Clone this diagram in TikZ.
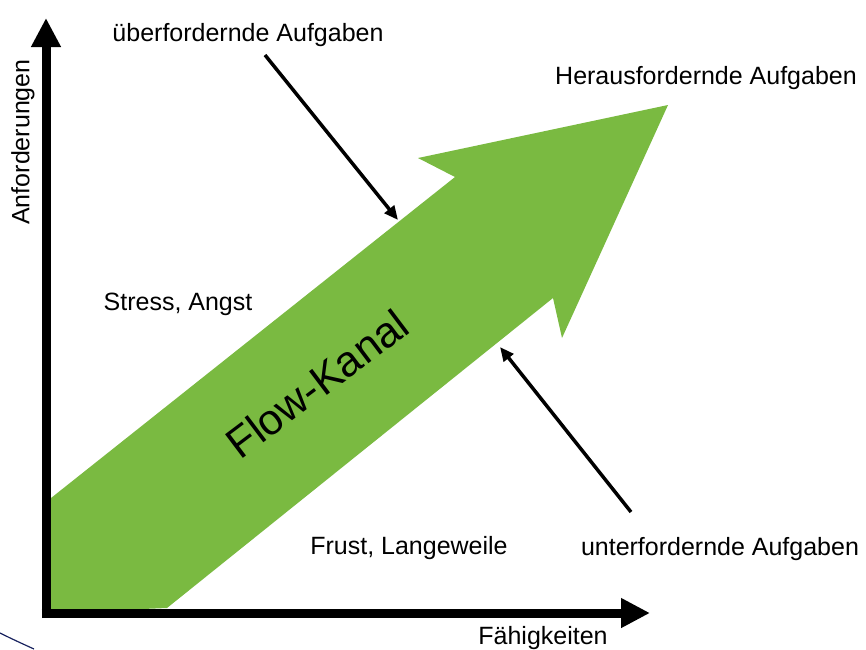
\documentclass[tikz,border=0pt]{standalone}
\usepackage{fontspec}
\setmainfont{Liberation Sans}
\usetikzlibrary{arrows.meta}
\definecolor{flowgreen}{RGB}{122,186,65}
\definecolor{curveblue}{RGB}{25,35,95}
\begin{document}
\begin{tikzpicture}[x=1pt,y=-1pt,
  axisline/.style={line width=9pt,-{Triangle[length=29pt,width=28pt]}},
  pointer/.style={line width=3.5pt,-{Triangle[length=14pt,width=12pt]}},
  lbl/.style={font=\fontsize{25}{30}\selectfont,inner sep=0pt,anchor=base}]
\useasboundingbox (0,0) rectangle (866,649);
% coordinates
\coordinate (O) at (46,613);
\coordinate (ytip) at (46,18);
\coordinate (xtip) at (650,613);
\coordinate (ystart) at (46,618);
\coordinate (xstart) at (41.5,613);
% green flow arrow
\fill[flowgreen] (46,502) -- (455,177) -- (418,158) -- (668,105) -- (562,338)
  -- (553,298) -- (167,608) -- (46,613) -- cycle;
% axes
\draw[axisline] (ystart) -- (ytip);
\draw[axisline] (xstart) -- (xtip);
% labels
\node[lbl] (ueber) at (248,41) {überfordernde Aufgaben};
\node[lbl] (heraus) at (706,84) {Herausfordernde Aufgaben};
\node[lbl] (stress) at (178,310) {Stress, Angst};
\node[lbl] (frust) at (409,554) {Frust, Langeweile};
\node[lbl] (unter) at (720,555) {unterfordernde Aufgaben};
\node[lbl] (faeh) at (543,644) {Fähigkeiten};
\node[font=\fontsize{25}{30}\selectfont,inner sep=0pt,rotate=90] (anf) at (23,142) {Anforderungen};
\node[font=\fontsize{43}{50}\selectfont,inner sep=0pt,anchor=base,rotate=37] (flow) at (326,396) {Flow-Kanal};
% pointer arrows
\coordinate (p1s) at (265,55);
\coordinate (p1e) at (398,220);
\coordinate (p2s) at (631,512);
\coordinate (p2e) at (500,347);
\draw[pointer] (p1s) -- (p1e);
\draw[pointer] (p2s) -- (p2e);
% stray curve at bottom left
\coordinate (c1) at (0,633);
\coordinate (c2) at (34,649);
\draw[curveblue,line width=1.2pt] (c1) .. controls (12,639) and (23,644) .. (c2);
\end{tikzpicture}
\end{document}
